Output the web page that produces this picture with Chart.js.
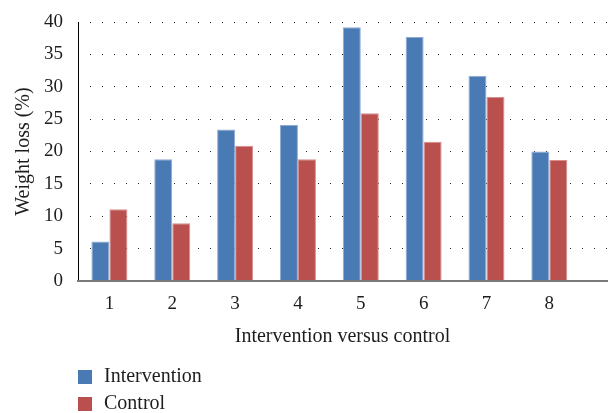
<!DOCTYPE html>
<html>
<head>
<meta charset="utf-8">
<script src="https://cdn.jsdelivr.net/npm/chart.js@4/dist/chart.umd.min.js"></script>
<style>
  html, body { margin: 0; padding: 0; background: #ffffff; }
  #wrap { width: 610px; height: 413px; position: relative; }
</style>
</head>
<body>
<div id="wrap"><canvas id="chart" width="610" height="413"></canvas></div>
<script>
// Study pairs and weight loss per arm
const categories = ['1', '2', '3', '4', '5', '6', '7', '8'];
const intervention = [6.1, 18.8, 23.4, 24.1, 39.2, 37.7, 31.7, 20.0];
const control = [11.1, 8.9, 20.9, 18.8, 25.9, 21.5, 28.4, 18.7];
const yTicks = [0, 5, 10, 15, 20, 25, 30, 35, 40];

const FONT = "'Liberation Serif', 'Times New Roman', serif";
const INK = '#1f1c1d';

// Vertical legend drawn under the axis title
const stackedLegend = {
  id: 'stackedLegend',
  afterDraw(chart) {
    const ctx = chart.ctx;
    const rows = [377, 404];
    ctx.save();
    ctx.font = '20px ' + FONT;
    ctx.textBaseline = 'middle';
    ctx.textAlign = 'left';
    chart.data.datasets.forEach((ds, i) => {
      const y = rows[i];
      ctx.fillStyle = ds.backgroundColor;
      ctx.fillRect(78, y - 7, 14, 14);
      ctx.fillStyle = INK;
      ctx.fillText(ds.label, 104, y);
    });
    ctx.restore();
  }
};

new Chart(document.getElementById('chart'), {
  type: 'bar',
  data: {
    labels: categories,
    datasets: [
      {
        label: 'Intervention',
        data: intervention,
        backgroundColor: '#4a7ab4',
        borderColor: '#8eaad3',
        borderWidth: 1,
        borderSkipped: 'start'
      },
      {
        label: 'Control',
        data: control,
        backgroundColor: '#b9504e',
        borderColor: '#d88e8c',
        borderWidth: 1,
        borderSkipped: 'start'
      }
    ]
  },
  options: {
    responsive: false,
    animation: false,
    categoryPercentage: 0.573,
    barPercentage: 1.0,
    layout: { padding: { top: 22, left: 0, right: 3, bottom: 60 } },
    plugins: {
      legend: { display: false },
      tooltip: { enabled: false }
    },
    scales: {
      x: {
        type: 'linear',
        min: 0.5,
        max: 8.918,
        offset: false,
        grid: { display: false, offset: false },
        border: { display: true, color: '#7a7a7a', width: 2, z: 1 },
        afterBuildTicks(scale) {
          scale.ticks = categories.map((c, i) => ({ value: i + 1 }));
        },
        afterFit(scale) {
          scale.height = 72;
          scale.paddingLeft = 0;
          scale.paddingRight = 0;
        },
        ticks: {
          autoSkip: false,
          maxRotation: 0,
          padding: 4,
          color: INK,
          font: { family: FONT, size: 19 },
          callback: (value) => categories[Math.round(value) - 1]
        },
        title: {
          display: true,
          text: 'Intervention versus control',
          color: INK,
          font: { family: FONT, size: 20 },
          padding: { top: 0, bottom: 4 }
        }
      },
      y: {
        min: 0,
        max: 40,
        afterBuildTicks(scale) {
          scale.ticks = yTicks.map(v => ({ value: v }));
        },
        afterFit(scale) {
          scale.width = 78;
          scale.paddingTop = 0;
          scale.paddingBottom = 0;
        },
        grid: {
          display: true,
          drawTicks: false,
          color: '#222222',
          lineWidth: 1
        },
        border: { display: true, color: '#000000', width: 1, dash: [1, 11], dashOffset: -11 },
        ticks: {
          padding: 15,
          color: INK,
          font: { family: FONT, size: 19 }
        },
        title: {
          display: true,
          text: 'Weight loss (%)',
          color: INK,
          font: { family: FONT, size: 20 },
          padding: { top: 12, bottom: 0 }
        }
      }
    }
  },
  plugins: [stackedLegend]
});
</script>
</body>
</html>
